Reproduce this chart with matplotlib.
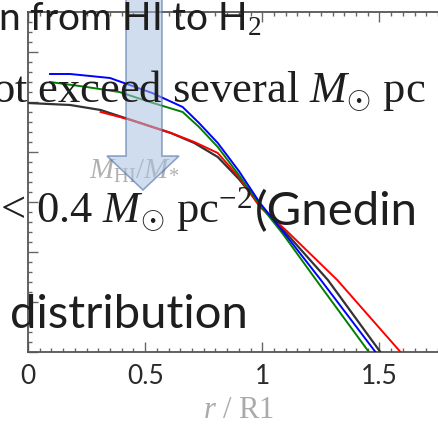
import matplotlib
matplotlib.use("Agg")
import matplotlib.pyplot as plt
from matplotlib.patches import Polygon
from matplotlib.ticker import MultipleLocator

W, H = 438, 425

# profiles (x = r/R1, y = arbitrary log units)
black_x = [0.00, 0.18, 0.31, 0.44, 0.61, 0.71, 0.81, 0.90, 0.99, 1.09, 1.28, 1.504]
black_y = [2.49, 2.47, 2.42, 2.32, 2.19, 2.09, 1.95, 1.73, 1.47, 1.22, 0.72, 0.00]
blue_x = [0.094, 0.18, 0.35, 0.53, 0.66, 0.73, 0.81, 0.90, 0.99, 1.09, 1.25, 1.483]
blue_y = [2.78, 2.78, 2.74, 2.59, 2.45, 2.29, 2.09, 1.81, 1.49, 1.20, 0.72, 0.00]
green_x = [0.094, 0.25, 0.39, 0.52, 0.66, 0.73, 0.81, 0.90, 0.99, 1.085, 1.23, 1.455]
green_y = [2.70, 2.65, 2.60, 2.50, 2.40, 2.25, 2.05, 1.77, 1.47, 1.19, 0.72, 0.00]
red_x = [0.31, 0.44, 0.61, 0.71, 0.81, 0.90, 0.99, 1.10, 1.32, 1.59]
red_y = [2.40, 2.32, 2.19, 2.10, 1.99, 1.75, 1.45, 1.22, 0.72, 0.00]

xticks = [0, 0.5, 1, 1.5]
xtick_labels = ["0", "0.5", "1", "1.5"]

plt.rcParams.update({
    "mathtext.fontset": "custom",
    "mathtext.rm": "Liberation Serif",
    "mathtext.it": "Liberation Serif:italic",
    "mathtext.bf": "Liberation Serif:bold",
})


def fx(x):
    return x / W


def fy(y):
    return 1 - y / H


fig = plt.figure(figsize=(W / 100, H / 100), dpi=100)
ax = fig.add_axes([fx(28), fy(352), fx(438 - 28), (352 - 12) / H])

ax.plot(black_x, black_y, color="#333333", lw=1.6, zorder=3)
ax.plot(red_x, red_y, color="#ff0000", lw=1.4, zorder=3)
ax.plot(green_x, green_y, color="#008000", lw=1.4, zorder=3)
ax.plot(blue_x, blue_y, color="#0000ff", lw=1.4, zorder=3)

ax.set_xlim(0, 1.75)
ax.set_ylim(0, 3.4)
ax.spines["right"].set_visible(False)
for s in ["left", "bottom", "top"]:
    ax.spines[s].set_color("#555555")
    ax.spines[s].set_linewidth(1.3)
ax.set_xticks(xticks)
ax.set_xticklabels(xtick_labels, fontfamily="Lato", fontsize=19, color="#2a2a2a")
ax.xaxis.set_minor_locator(MultipleLocator(0.05))
ax.yaxis.set_major_locator(MultipleLocator(0.5))
ax.yaxis.set_minor_locator(MultipleLocator(0.1))
ax.set_yticklabels([])
ax.tick_params(which="both", direction="in", top=True, right=False, color="#666666")
ax.tick_params(which="major", length=7, width=1)
ax.tick_params(which="minor", length=3, width=1)
ax.tick_params(axis="x", pad=9)

fig.text(fx(239), fy(410), r"$r$ / R1", fontfamily="Liberation Serif", fontsize=22,
         color="#aaaaaa", ha="center", va="center")
fig.text(fx(134), fy(171), r"$M_{\rm HI}/M_{*}$", fontsize=21, color="#b0b0b0",
         ha="center", va="center", zorder=5)

# translucent down arrow
arrow_px = [(126, -5), (162, -5), (162, 156), (179, 156), (143, 190),
            (107, 156), (126, 156)]
arrow = Polygon([(fx(x), fy(y)) for x, y in arrow_px], closed=True,
                transform=fig.transFigure, facecolor="#a9c1e0", alpha=0.55,
                edgecolor="#3f66a0", lw=1.2, zorder=6)
fig.patches.append(arrow)

# slide text overlapping the figure
dark = "#1e1e1e"
fig.text(fx(-2), fy(30), "n from HI to H$_2$", fontfamily="Lato", fontsize=28,
         color=dark, va="baseline", zorder=7)
fig.text(fx(-8), fy(102), r"ot exceed several $M_{\odot}$ pc",
         fontfamily="Liberation Serif", fontsize=32, color=dark, va="baseline", zorder=7)
fig.text(fx(0), fy(222), r"< 0.4 $M_{\odot}$ pc$^{-2}$",
         fontfamily="Liberation Serif", fontsize=32, color=dark, va="baseline", zorder=7)
fig.text(fx(255), fy(225), "(Gnedin", fontfamily="Lato", fontsize=34,
         color=dark, va="baseline", zorder=7)
fig.text(fx(10), fy(328), "distribution", fontfamily="Lato", fontsize=34,
         color=dark, va="baseline", zorder=7)

fig.savefig("out.png", dpi=100)
